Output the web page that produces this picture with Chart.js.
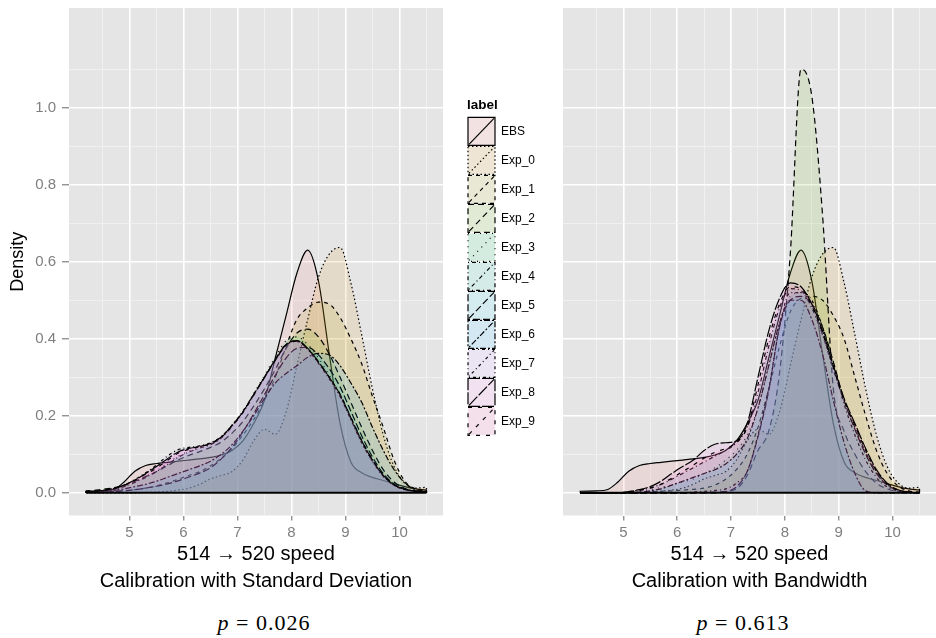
<!DOCTYPE html>
<html>
<head>
<meta charset="utf-8">
<script src="https://cdn.jsdelivr.net/npm/chart.js@4.4.1/dist/chart.umd.min.js"></script>
<style>
  html, body { margin: 0; padding: 0; background: #fff; }
  #wrap { position: relative; width: 936px; height: 638px; overflow: hidden; }
  #c1 { position: absolute; left: 0; top: 0; }
  #c2 { position: absolute; left: 443px; top: 0; }
  .pval { position: absolute; top: 607px; width: 200px; text-align: center; letter-spacing: 1px;
          font-family: 'Liberation Serif', serif; font-size: 22px; line-height: 32px; color: #000; }
</style>
</head>
<body>
<div id="wrap">
  <canvas id="c1" width="443" height="600"></canvas>
  <canvas id="c2" width="493" height="600"></canvas>
  <div class="pval" style="left:164px"><i>p</i> = 0.026</div>
  <div class="pval" style="left:643px"><i>p</i> = 0.613</div>
</div>
<script>
// density grid (x = speed)
const X = [4.2, 4.5, 4.7, 4.9, 5.1, 5.3, 5.5, 5.7, 5.9, 6.1, 6.3, 6.5, 6.7, 6.9, 7.1, 7.3,
           7.5, 7.7, 7.9, 8.1, 8.3, 8.5, 8.7, 8.9, 9.1, 9.3, 9.5, 9.7, 9.9, 10.1, 10.3, 10.5];
const XTICKS = [4.5, 5, 5.5, 6, 6.5, 7, 7.5, 8, 8.5, 9, 9.5, 10, 10.5];
const YTICKS = [0, 0.1, 0.2, 0.3, 0.4, 0.5, 0.6, 0.7, 0.8, 0.9, 1.0, 1.1];
const LABELS = ['EBS', 'Exp_0', 'Exp_1', 'Exp_2', 'Exp_3', 'Exp_4', 'Exp_5', 'Exp_6', 'Exp_7', 'Exp_8', 'Exp_9'];

// same in both panels
const EBS  = [.004, .005, .008, .028, .056, .071, .076, .079, .082, .085, .088, .092, .098, .11, .135, .18,
              .24, .35, .46, .57, .63, .55, .36, .18, .08, .052, .04, .032, .024, .016, .01, .007];
const EXP0 = [0, 0, 0, 0, 0, .001, .002, .004, .007, .012, .022, .036, .045, .055, .085, .135,
              .165, .152, .21, .33, .45, .56, .62, .637, .545, .41, .27, .15, .068, .026, .012, .014];

// Calibration with Standard Deviation
const SD_EXP1 = [.001, .002, .003, .005, .008, .012, .018, .026, .035, .045, .055, .07, .09, .115, .15, .19,
                 .24, .30, .38, .45, .48, .495, .49, .455, .40, .335, .25, .17, .085, .03, .01, .004];
const SD_EXP2 = [.005, .009, .013, .02, .03, .042, .055, .07, .085, .097, .107, .118, .132, .155, .185, .225,
                 .27, .32, .375, .415, .425, .405, .36, .30, .235, .17, .11, .06, .028, .011, .005, .003];
const SD_EXP3 = [.003, .006, .01, .017, .028, .042, .057, .076, .095, .108, .117, .126, .143, .174, .21, .257,
                 .305, .352, .395, .405, .385, .35, .305, .255, .19, .13, .08, .042, .019, .008, .004, .002];
const SD_EXP4 = [.003, .005, .009, .016, .027, .04, .055, .073, .092, .106, .116, .125, .142, .172, .208, .253,
                 .3, .346, .386, .394, .374, .338, .298, .252, .192, .132, .083, .044, .02, .009, .004, .002];
const SD_EXP5 = [.001, .002, .003, .005, .008, .012, .017, .023, .031, .041, .051, .065, .088, .118, .158, .205,
                 .255, .305, .35, .375, .378, .358, .322, .275, .212, .148, .093, .05, .022, .01, .004, .002];
const SD_EXP6 = [.002, .004, .006, .01, .016, .022, .03, .04, .05, .06, .07, .082, .1, .125, .16, .2,
                 .245, .285, .31, .33, .352, .362, .358, .33, .285, .235, .17, .11, .06, .025, .008, .004];
const SD_EXP7 = [.003, .006, .011, .02, .034, .052, .072, .095, .112, .118, .122, .13, .146, .176, .212, .256,
                 .3, .344, .383, .393, .372, .336, .296, .25, .19, .13, .082, .043, .019, .008, .004, .002];
const SD_EXP8 = [.003, .006, .011, .02, .033, .05, .068, .088, .106, .115, .12, .128, .145, .175, .21, .255,
                 .3, .345, .385, .395, .375, .34, .3, .255, .195, .135, .085, .045, .02, .009, .004, .002];
const SD_EXP9 = [.003, .006, .01, .019, .032, .048, .064, .084, .103, .113, .12, .127, .144, .174, .209, .254,
                 .299, .344, .384, .394, .374, .34, .3, .256, .196, .136, .086, .046, .021, .009, .004, .002];

// Calibration with Bandwidth
const BW_EXP1 = [0, 0, 0, 0, .001, .002, .003, .004, .005, .007, .009, .012, .02, .035, .06, .1,
                 .17, .27, .38, .47, .505, .51, .5, .46, .40, .30, .20, .11, .05, .018, .005, .002];
const BW_EXP2 = [0, 0, 0, 0, 0, 0, 0, 0, 0, 0, 0, .001, .002, .004, .01, .045,
                 .11, .16, .31, .62, 1.1, 1.03, .72, .27, .16, .1, .055, .025, .01, .003, .001, 0];
const BW_EXP3 = [0, 0, 0, 0, 0, .003, .008, .014, .02, .028, .036, .05, .065, .085, .11, .15,
                 .22, .33, .44, .51, .52, .48, .41, .32, .235, .165, .1, .05, .02, .006, .002, 0];
const BW_EXP4 = [0, 0, 0, 0, .003, .007, .013, .022, .035, .05, .065, .08, .095, .11, .13, .17,
                 .26, .38, .48, .53, .525, .48, .41, .32, .24, .17, .105, .055, .022, .007, .002, 0];
const BW_EXP5 = [0, 0, 0, 0, 0, 0, 0, 0, 0, 0, 0, 0, 0, .003, .015, .055,
                 .145, .265, .43, .5, .51, .49, .43, .34, .24, .165, .1, .05, .02, .006, .002, 0];
const BW_EXP6 = [0, 0, 0, 0, 0, 0, .005, .01, .02, .03, .04, .05, .06, .075, .1, .14,
                 .22, .33, .44, .5, .5, .45, .36, .24, .13, .05, .005, 0, 0, 0, 0, 0];
const BW_EXP7 = [0, 0, 0, 0, 0, 0, 0, 0, 0, 0, .002, .004, .006, .01, .025, .055,
                 .15, .27, .43, .52, .52, .5, .43, .33, .23, .15, .085, .04, .015, .005, .001, 0];
const BW_EXP8 = [0, 0, 0, 0, .003, .008, .016, .03, .05, .068, .085, .11, .126, .13, .135, .18,
                 .3, .42, .505, .545, .535, .49, .42, .33, .245, .18, .115, .06, .025, .008, .002, 0];
const BW_EXP9 = [0, 0, 0, 0, .002, .006, .012, .022, .038, .055, .072, .09, .105, .115, .13, .17,
                 .28, .4, .49, .535, .53, .485, .415, .325, .24, .175, .11, .057, .023, .007, .002, 0];

const SD = [EBS, EXP0, SD_EXP1, SD_EXP2, SD_EXP3, SD_EXP4, SD_EXP5, SD_EXP6, SD_EXP7, SD_EXP8, SD_EXP9];
const BW = [EBS, EXP0, BW_EXP1, BW_EXP2, BW_EXP3, BW_EXP4, BW_EXP5, BW_EXP6, BW_EXP7, BW_EXP8, BW_EXP9];

const COLORS = ['#F8766D', '#DB8E00', '#AEA200', '#64B200', '#00BD5C', '#00C1A7',
                '#00BADE', '#00A6FF', '#B385FF', '#EF67EB', '#FF63B6'];
const DASHES = [[], [1.5, 2.5], [4, 4], [6, 4], [1, 5], [1, 3, 4, 3],
                [7, 3], [2, 2, 6, 2], [1, 3, 3, 3], [12, 2], [4, 6]];
const ALPHA = '1F';

const FONT = "'Liberation Sans', Arial, sans-serif";
Chart.defaults.font.family = FONT;
Chart.defaults.animation = false;

const isMajor = (v, step) => Math.abs(v / step - Math.round(v / step)) < 1e-6;

// grey panel background (and grey legend keys)
const panelBg = {
  id: 'panelBg',
  beforeDraw(chart) {
    const a = chart.chartArea, ctx = chart.ctx;
    ctx.save();
    ctx.fillStyle = '#e5e5e5';
    ctx.fillRect(a.left, a.top, a.right - a.left, a.bottom - a.top);
    const lg = chart.legend;
    if (lg && lg.options.display && lg.legendHitBoxes) {
      ctx.fillStyle = '#f2f2f2';
      lg.legendHitBoxes.forEach(hb => ctx.fillRect(hb.left, hb.top, 27, 28));
    }
    ctx.restore();
  }
};

// diagonal line in each legend key, like ggplot's density key
const keyDiagonals = {
  id: 'keyDiagonals',
  afterDraw(chart) {
    const lg = chart.legend;
    if (!lg || !lg.legendHitBoxes) return;
    const ctx = chart.ctx;
    lg.legendHitBoxes.forEach((hb, i) => {
      const item = lg.legendItems[i];
      ctx.save();
      ctx.strokeStyle = '#000';
      ctx.lineWidth = 1.15;
      ctx.setLineDash(item.lineDash || []);
      ctx.beginPath();
      ctx.moveTo(hb.left + 1, hb.top + 27);
      ctx.lineTo(hb.left + 26, hb.top + 1);
      ctx.stroke();
      ctx.restore();
    });
  }
};

function series(vals) {
  const pts = X.map((x, i) => ({ x: x, y: vals[i] }));
  pts.unshift({ x: X[0], y: 0 });
  pts.push({ x: X[X.length - 1], y: 0 });
  return pts;
}

function datasets(group) {
  const ds = group.map((vals, i) => ({
    label: LABELS[i],
    data: series(vals),
    borderColor: '#000',
    borderWidth: 1.2,
    borderDash: DASHES[i],
    backgroundColor: COLORS[i] + ALPHA,
    fill: 'origin',
    pointRadius: 0,
    cubicInterpolationMode: 'monotone',
    order: 20 - i
  }));
  ds.push({
    label: 'base',
    data: [{ x: X[0], y: 0 }, { x: X[X.length - 1], y: 0 }],
    borderColor: '#000', borderWidth: 2, pointRadius: 0, fill: false, order: 0
  });
  return ds;
}

// keep the panel edges where we put them
function noPad(s) {
  s.paddingTop = 0; s.paddingBottom = 0; s.paddingLeft = 0; s.paddingRight = 0;
}

function xScale(subtitle) {
  return {
    type: 'linear', min: 3.88, max: 10.806,
    afterBuildTicks: s => { s.ticks = XTICKS.map(v => ({ value: v })); },
    afterFit: s => { s.height = 84.5; noPad(s); },
    ticks: {
      autoSkip: false, maxRotation: 0, padding: 3.5, color: '#7f7f7f',
      font: { size: 15 },
      callback: v => isMajor(v, 1) ? String(v) : ''
    },
    grid: {
      color: c => isMajor(c.tick.value, 1) ? '#ffffff' : '#f2f2f2',
      lineWidth: c => isMajor(c.tick.value, 1) ? 1.6 : 0.8,
      tickColor: c => isMajor(c.tick.value, 1) ? '#666666' : 'rgba(0,0,0,0)',
      tickWidth: 1, tickLength: 5
    },
    border: { display: false },
    title: {
      display: true, text: ['514 → 520 speed', subtitle], color: '#000',
      font: { size: 20, lineHeight: 1.335 }, padding: { top: 0, bottom: 5 }
    }
  };
}

function yGrid(withTicks) {
  return {
    color: c => isMajor(c.tick.value, 0.2) ? '#ffffff' : '#f2f2f2',
    lineWidth: c => isMajor(c.tick.value, 0.2) ? 1.6 : 0.8,
    tickColor: c => isMajor(c.tick.value, 0.2) ? '#666666' : 'rgba(0,0,0,0)',
    tickWidth: 1, tickLength: 7, drawTicks: withTicks
  };
}

new Chart(document.getElementById('c1'), {
  type: 'line',
  data: { datasets: datasets(SD) },
  options: {
    responsive: false,
    layout: { padding: { top: 8, left: 0, right: 0, bottom: 0 } },
    plugins: { legend: { display: false }, tooltip: { enabled: false } },
    scales: {
      x: xScale('Calibration with Standard Deviation'),
      y: {
        min: -0.059, max: 1.259,
        afterBuildTicks: s => { s.ticks = YTICKS.map(v => ({ value: v })); },
        afterFit: s => { s.width = 69; noPad(s); },
        ticks: {
          autoSkip: false, padding: 6, color: '#7f7f7f', font: { size: 15 },
          callback: v => isMajor(v, 0.2) ? v.toFixed(1) : ''
        },
        grid: yGrid(true),
        border: { display: false },
        title: { display: true, text: 'Density', color: '#000', font: { size: 18 }, padding: { top: 7, bottom: 0 } }
      }
    }
  },
  plugins: [panelBg]
});

const PAD2 = 24;
new Chart(document.getElementById('c2'), {
  type: 'line',
  data: { datasets: datasets(BW) },
  options: {
    responsive: false,
    layout: { padding: { top: 8, left: PAD2, right: 0, bottom: 0 } },
    plugins: {
      tooltip: { enabled: false },
      legend: {
        position: 'left', align: 'center', fullSize: false,
        title: {
          display: true, text: 'label', position: 'start', color: '#000',
          font: { size: 13.5, weight: 'bold' }, padding: { top: 11, bottom: 2 }
        },
        labels: {
          boxWidth: 27, boxHeight: 28, padding: 1, color: '#000', font: { size: 12 },
          filter: item => item.text !== 'base',
          sort: (a, b) => a.datasetIndex - b.datasetIndex
        }
      }
    },
    scales: {
      x: xScale('Calibration with Bandwidth'),
      y: {
        min: -0.059, max: 1.259,
        afterBuildTicks: s => { s.ticks = YTICKS.map(v => ({ value: v })); },
        afterFit: s => {
          const lw = s.chart.legend ? s.chart.legend.width : 0;
          s.width = Math.max(0, 563 - 443 - PAD2 - lw);
          noPad(s);
        },
        ticks: { display: false },
        grid: yGrid(false),
        border: { display: false }
      }
    }
  },
  plugins: [panelBg, keyDiagonals]
});
</script>
</body>
</html>
